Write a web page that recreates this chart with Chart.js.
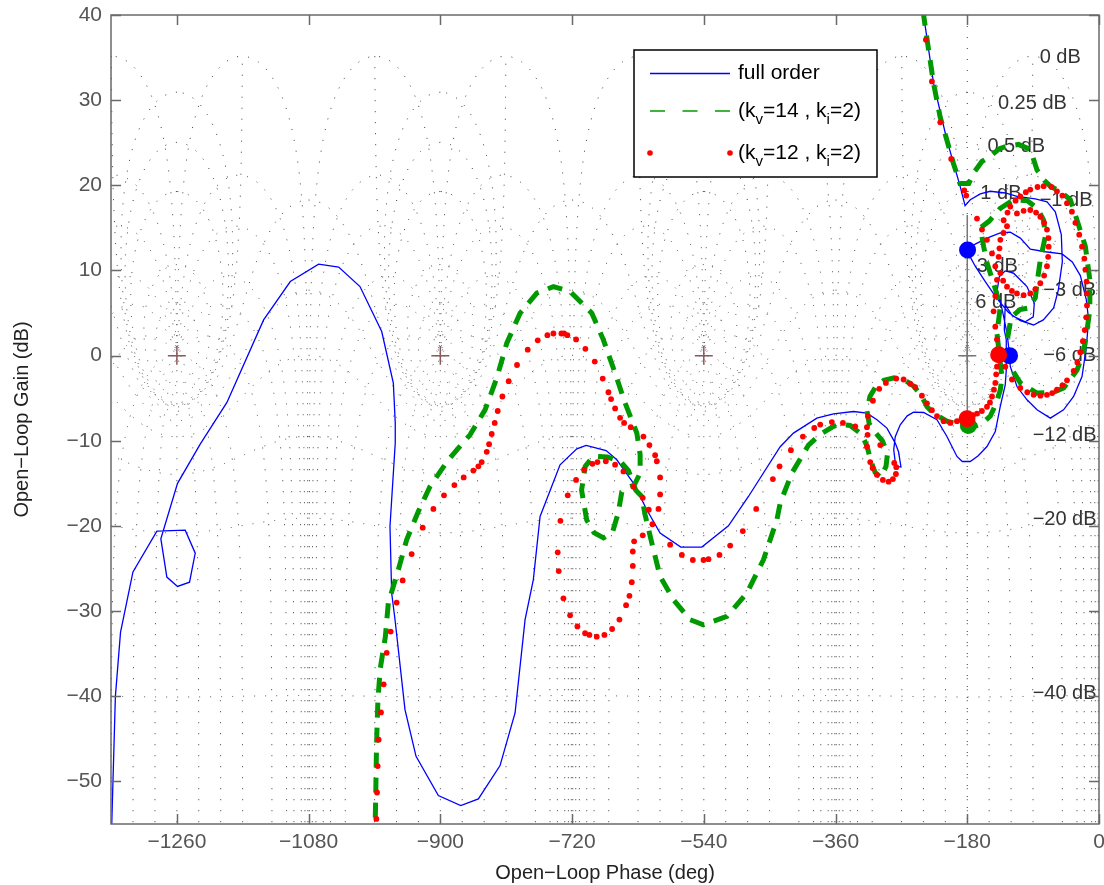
<!DOCTYPE html>
<html>
<head>
<meta charset="utf-8">
<script src="https://cdn.jsdelivr.net/npm/chart.js@4.4.0/dist/chart.umd.min.js"></script>
<style>
html, body { margin: 0; padding: 0; background: #fff; }
</style>
</head>
<body>
<canvas id="myChart" width="1104" height="885"></canvas>
<script>
// axis ticks
const xTickValues = [-1260, -1080, -900, -720, -540, -360, -180, 0];
const yTickValues = [-50, -40, -30, -20, -10, 0, 10, 20, 30, 40];

// full order model, [phase deg, gain dB]
const fullOrder = [
  [-239.7, 40], [-226.1, 32.0], [-207.8, 25.3], [-189.6, 19.85], [-183, 17.6],
  [-175.9, 18.3], [-162.2, 19.0], [-148.6, 19.3], [-128.1, 19.1], [-112.1, 18.7], [-87, 18.4], [-71, 18.05],
  [-59.7, 16.9], [-51.5, 14.2], [-50.1, 11.0], [-55.6, 7.7], [-62, 5.6], [-76.1, 4.2], [-89.4, 3.6],
  [-107.5, 4.1], [-124, 5.1], [-140.4, 6.8], [-155.4, 8.7], [-169.1, 10.5], [-177.3, 11.8], [-179.6, 12.4],
  [-169.1, 13.1], [-153.1, 13.8], [-134.9, 14.4], [-121.2, 14.5], [-107.5, 13.8], [-93.9, 12.5], [-73.4, 12.2],
  [-50.5, 11.95], [-36.5, 11.0], [-25.5, 9.4], [-17.3, 6.55], [-14.2, 4.2], [-17.3, 1.0], [-23.2, -2.45],
  [-34.7, -4.8], [-48.4, -6.36], [-66.5, -7.34], [-84.7, -6.36], [-98.4, -5.19], [-112.1, -3.63],
  [-121.2, -1.28], [-122.2, 0.1], [-125.7, 2.64], [-132.2, 5.38], [-139, 7.72], [-136.3, 9.25],
  [-128.1, 9.95], [-116.7, 9.68], [-98.4, 8.11], [-88.4, 6.16], [-89.8, 4.55], [-100.7, 3.97],
  [-118.5, 4.67], [-128.1, 5.96], [-129.4, 3.03], [-126.7, 1.85], [-126.7, -1.67], [-128.1, -3.43],
  [-134.9, -5.97], [-141.7, -8.91], [-153.1, -10.67], [-165, -11.76], [-175.9, -12.43], [-186.8, -12.43],
  [-194.1, -11.84], [-207.8, -9.49], [-221.4, -7.53], [-239.7, -6.68], [-253.4, -6.63], [-262, -7.07],
  [-271.6, -8.12], [-278.4, -9.53], [-280.5, -11.06], [-277.7, -12.99], [-270.6, -13.08], [-273.9, -11.29],
  [-278.4, -10.27], [-289.8, -8.51], [-303.4, -7.53], [-317.1, -6.75], [-335.4, -6.56], [-362.8, -6.83],
  [-385.5, -7.34], [-417.5, -9.1], [-435.6, -10.7], [-479, -16.54], [-506.3, -19.98], [-542.7, -22.48],
  [-571.4, -22.48], [-599.7, -20.83], [-617.9, -18.1], [-636.2, -14.96], [-658.9, -12.23], [-673.5, -11.14],
  [-700.8, -10.55], [-713.5, -10.94], [-736.4, -12.82], [-763.7, -18.89], [-772.9, -26.31], [-784.2, -31.01],
  [-797.9, -41.96], [-818.4, -48.14], [-848, -52.05], [-872.1, -52.84], [-902.7, -51.66], [-933.2, -47.05],
  [-948.3, -41.57], [-961.9, -31.01], [-966.5, -27.88], [-968.8, -20.06], [-961.6, -10.27], [-961.6, -7.92],
  [-964.2, -3.23], [-980.1, 2.83], [-1009.8, 8.11], [-1038.9, 10.4], [-1066.3, 10.75], [-1105, 8.7],
  [-1141.5, 4.2], [-1191.6, -5.5], [-1228.1, -10.4], [-1259.1, -15.0], [-1281.9, -21.5], [-1273.7, -26.0],
  [-1259.1, -27.1], [-1242.7, -26.6], [-1234.9, -23.2], [-1248.6, -20.5], [-1287.3, -20.6], [-1320, -25.4],
  [-1337, -32.5], [-1344, -40], [-1349, -55.1]
];

// reduced model kv=14, ki=2
const kv14 = [
  [-240.5, 40.5], [-233, 36], [-226.1, 32], [-217, 28], [-207.8, 25.3], [-199, 22.6], [-190, 20.2],
  [-178, 20.2], [-170, 21.6], [-160, 22.8], [-148.5, 23.4], [-136, 24.3], [-125.7, 24.6], [-110, 24.8],
  [-93.8, 24.2], [-84.7, 21.8], [-75, 20.6], [-66.5, 19.9], [-52, 19.2], [-39.2, 18.3], [-30, 15.9],
  [-18.6, 12.8], [-12.5, 8.9], [-12.5, 5.4], [-16, 3.2], [-21, 0.5], [-30, -1.7], [-48.3, -3.8],
  [-61.9, -4.3], [-84.7, -4.4], [-107.5, -3.2], [-121.2, -1.3], [-126, 1.5],
  [-120, 4.5], [-108, 5.4], [-96, 5.6], [-87, 6.8], [-84.7, 8.5], [-80.2, 11.25], [-73.3, 14],
  [-75.6, 15.9], [-84, 17.3], [-98, 18.2], [-116.6, 18.3], [-135, 17.3], [-150, 15.8], [-162, 15.0],
  [-157.6, 12.8], [-153.1, 10.9], [-144, 8.5], [-134.8, 5.8], [-139.4, 2.6], [-136, 0], [-132.6, -2.5],
  [-134.8, -4.0], [-140, -5.5], [-148.5, -7.1], [-160, -8.0], [-170, -8.3], [-180, -8.1],
  [-195, -8.0], [-207.8, -7.7], [-226, -6.8], [-235, -6], [-242, -4.8], [-253, -3.6], [-265, -2.9],
  [-280, -2.6], [-294, -2.9], [-304, -3.5], [-313, -4.8], [-317, -6.5], [-314, -8], [-306, -9],
  [-296, -10], [-289, -11.5], [-291, -13], [-298, -14.3], [-306, -13.7], [-312, -12.3], [-317, -10.6],
  [-325, -9.2], [-340, -8.2], [-353.6, -8.1], [-362.7, -8.3], [-380, -9.2], [-396.9, -10.5],
  [-419.7, -13.8], [-435.6, -17.3], [-440.1, -19.27], [-458.5, -23.97], [-481.2, -27.88], [-508.5, -30.62],
  [-540.5, -31.6], [-558.7, -31.01], [-581.5, -28.66], [-599.7, -25.93], [-611, -22.01], [-620.2, -18.69],
  [-625, -16.5], [-633, -15.8], [-643, -13.5], [-654, -12.4], [-672, -11.9], [-691, -11.8], [-702, -13],
  [-707, -15.8], [-700, -19.3], [-690, -20.8], [-677, -21.4], [-665, -20.8], [-657, -18.5], [-652, -16],
  [-645, -15.5], [-635, -15.2], [-627, -13.8], [-627, -11.6], [-631.5, -9.1], [-647.5, -5.57],
  [-661.2, -2.05], [-677.2, 1.85], [-693, 4.99], [-722.7, 7.52], [-745.5, 8.11], [-768.2, 7.34],
  [-791, 4.99], [-809.2, 1.47], [-822.9, -2.64], [-838.9, -6.36], [-859.4, -9.3], [-889.1, -12.23],
  [-914.1, -15.36], [-930.1, -18.3], [-946, -21.62], [-957.4, -25.14], [-971.1, -29.05], [-975.1, -33],
  [-982, -36.7], [-985.2, -40.3], [-986.5, -43.6], [-987.4, -46.9], [-988.3, -51.8], [-989.3, -56]
];

// reduced model kv=12, ki=2 (markers only)
const kv12 = [
  [-987.4, -54.4], [-986.5, -51.3], [-985.6, -48.2], [-984.3, -45.1], [-981.1, -41.9], [-977.4, -38.6],
  [-973.3, -34.9], [-967.9, -32.4], [-959.7, -29.0], [-951.5, -26.4], [-939.2, -23.3], [-924.1, -20.2],
  [-909.5, -18.0], [-895.0, -16.4], [-880.8, -15.2], [-868.1, -14.3], [-854.9, -13.5], [-848.0, -13.0],
  [-843.5, -12.5], [-836.6, -11.3], [-833.4, -10.4], [-829.8, -9.2], [-825.7, -7.9], [-821.6, -6.5],
  [-815.2, -4.8], [-806.6, -3.0], [-795.2, -1.1], [-780.6, 0.7], [-766.9, 1.8], [-753.7, 2.4],
  [-745.5, 2.6], [-734.6, 2.6], [-730.9, 2.6], [-726.4, 2.4], [-714.5, 1.9], [-701.8, 0.8], [-689.0, -0.7],
  [-678.1, -2.7], [-670.3, -4.3], [-666.7, -5.1], [-661.2, -6.2], [-654.4, -7.3], [-648.9, -7.9],
  [-639.8, -8.4], [-622.5, -9.5], [-614.3, -10.5], [-606.5, -11.7], [-604.2, -12.4], [-599.7, -14.3],
  [-599.7, -16.3], [-601.9, -18.0], [-610.2, -19.8], [-623.4, -21.1], [-635.2, -21.8], [-637.0, -23.0],
  [-637.0, -24.7], [-638.4, -26.6], [-641.6, -28.2], [-646.2, -29.3], [-655.3, -31.0], [-665.3, -32.1],
  [-675.8, -32.8], [-686.3, -33.0], [-696.3, -32.8], [-702.2, -32.6], [-712.7, -31.8], [-722.7, -30.5],
  [-731.8, -28.5], [-738.2, -25.3], [-739.6, -23.1], [-735.9, -19.4], [-725.9, -16.4], [-714.5, -14.6],
  [-703.6, -13.4], [-692.2, -12.7], [-685.3, -12.5], [-673.9, -12.4], [-661.2, -12.8], [-649.8, -13.6],
  [-636.1, -15.4], [-623.4, -16.7], [-615.2, -18.1], [-586.0, -22.2], [-570.0, -23.4], [-555.0, -24.0],
  [-540.4, -24.0], [-533.6, -23.9], [-518.6, -23.4], [-504.0, -22.3], [-486.7, -20.6], [-468.4, -18.0],
  [-445.6, -14.5], [-436.5, -13.0], [-421.0, -11.1], [-404.6, -9.5], [-389.1, -8.5], [-380.9, -8.1],
  [-365.0, -7.8], [-349.9, -7.9], [-333.1, -8.3], [-317.1, -8.4], [-316.2, -9.3], [-317.1, -10.7],
  [-312.6, -12.5], [-309.4, -13.2], [-303.5, -14.0], [-295.3, -14.6], [-287.5, -14.8], [-281.6, -14.5],
  [-277.5, -13.9], [-277.0, -13.1], [-279.8, -12.6], [-298.9, -10.5], [-315.8, -7.1], [-308.9, -5.3],
  [-300.3, -3.9], [-291.2, -3.2], [-277.0, -2.7], [-267.0, -2.8], [-257.9, -3.3], [-251.1, -3.7],
  [-242.0, -4.7], [-235.1, -5.6], [-228.3, -6.4], [-221.4, -7.1], [-212.3, -7.7], [-203.2, -7.9],
  [-194.1, -7.7], [-172, -7.0], [-166.7, -6.8], [-160, -6.5], [-153.1, -6.0], [-149, -5.5], [-146.2, -4.8],
  [-143.5, -4.0], [-141.7, -3.2], [-140.5, -2.2], [-139.4, -1.3], [-139.4, 1.9], [-141.7, 3.4],
  [-144.0, 5.2], [-141.7, 7.0], [-139.4, 8.9], [-141.7, 10.5], [-146.2, 12.0], [-153.1, 13.6],
  [-159.9, 14.8], [-166.7, 16.1], [-181.4, 18.8], [-184.1, 19.4], [-201.9, 23.1], [-216.9, 27.4],
  [-228.3, 32.2], [-236.5, 37.1],
  [-130.3, 15.9], [-125, 16.8], [-121.2, 17.5], [-114, 18.2], [-107.5, 18.7], [-100, 19.2], [-93.9, 19.5],
  [-84, 19.8], [-75.6, 19.9], [-65, 19.8], [-57.4, 19.3], [-50, 18.8], [-43.7, 17.9], [-37, 16.9],
  [-32.3, 15.6], [-27, 14.2], [-23.2, 12.8], [-20, 11.4], [-18.6, 10.1], [-17, 8.7], [-16.4, 7.3],
  [-16.4, 5.9], [-17.5, 4.5], [-19.5, 3.0], [-22, 1.7], [-25.5, 0.4], [-29.5, -0.8], [-34.6, -1.8],
  [-43.7, -2.9], [-50, -3.5], [-57.4, -4.0], [-64, -4.4], [-71.1, -4.6], [-80, -4.7], [-89.3, -4.6],
  [-98, -4.3], [-107.5, -3.8], [-118.9, -2.8], [-128, -1.3],
  [-125.7, 15.2], [-112.1, 16.7], [-103, 17.0], [-93.9, 17.1], [-86, 16.8], [-80.2, 16.3], [-75, 15.6],
  [-71.1, 14.8], [-69, 13.8], [-68.8, 12.8], [-69.5, 11.6], [-71.1, 10.5], [-75, 9.4], [-80.2, 8.5],
  [-87, 7.8], [-93.9, 7.3], [-103, 7.1], [-112.1, 7.3], [-119, 7.6], [-125.7, 8.1], [-131, 8.8],
  [-134.8, 9.7], [-137.1, 11.6], [-136, 12.6], [-134.8, 13.6], [-130.5, 14.4]
];

// stability margin markers
const fullOrderMargins = [[-179.6, 12.4], [-122.2, 0]];
const kv14Margins = [[-178.5, -8.2]];
const kv12Margins = [[-180.4, -7.4], [-137.1, 0.1]];
const marginLine = [[-180, 16.5], [-180, -7.4]];
const criticalPoints = [[-1260, 0], [-900, 0], [-540, 0], [-180, 0]];

// Nichols grid levels
const gridGains = [6, 3, 1, 0.5, 0.25, 0, -1, -3, -6, -12, -20, -40, -60];
const gridPhases = [-1, -5, -10, -20, -30, -50, -90, -120, -150, -180, -210, -240, -270, -310, -330, -340, -350, -355, -359];
const gridLabels = ['0 dB', '0.25 dB', '0.5 dB', '1 dB', '-1 dB', '3 dB', '-3 dB', '6 dB', '-6 dB', '-12 dB', '-20 dB', '-40 dB'];
const gridLabelPhase = [-53, -91, -113, -134, -45, -139, -40, -141, -40, -47, -47, -47];
const gridLabelGain = [35, 29.6, 24.6, 19, 18.2, 10.5, 7.6, 6.2, 0, -9.4, -19.2, -39.7];

const FONT = '"Liberation Sans", Arial, Helvetica, sans-serif';
const minus = s => String(s).replace('-', '\u2212');
const toXY = arr => arr.map(p => ({ x: p[0], y: p[1] }));

// closed loop T = m e^{j th}  ->  open loop G = T / (1 - T)
function openLoop(m, thDeg) {
  const t = thDeg * Math.PI / 180;
  const a = m * Math.cos(t), b = m * Math.sin(t);
  const c = 1 - a, d = -b;
  const den = c * c + d * d;
  const re = (a * c + b * d) / den, im = (b * c - a * d) / den;
  let ph = Math.atan2(im, re) * 180 / Math.PI;
  if (ph > 0) ph -= 360;
  return [ph, 10 * Math.log10(re * re + im * im)];
}

function gridCurves() {
  const curves = [];
  gridGains.forEach(g => {
    const m = Math.pow(10, g / 20), pts = [];
    for (let th = -360; th <= 0.001; th += 0.25) pts.push(openLoop(m, th));
    curves.push(pts);
  });
  gridPhases.forEach(th => {
    const pts = [];
    for (let d = -100; d < 100; d += (Math.abs(d) < 12 ? 0.02 : 0.5)) pts.push(openLoop(Math.pow(10, d / 20), th));
    curves.push(pts);
  });
  return curves;
}
const nicholsCurves = gridCurves();

const nicholsGrid = {
  id: 'nicholsGrid',
  beforeDatasetsDraw(chart) {
    const { ctx, chartArea: a, scales: { x, y } } = chart;
    ctx.save();
    ctx.beginPath();
    ctx.rect(a.left, a.top, a.right - a.left, a.bottom - a.top);
    ctx.clip();
    ctx.strokeStyle = '#3a3a3a';
    ctx.lineWidth = 1;
    ctx.setLineDash([1, 10]);
    for (let k = 0; k < 4; k++) {
      nicholsCurves.forEach(pts => {
        ctx.beginPath();
        let prev = null;
        pts.forEach(p => {
          if (!isFinite(p[1]) || p[1] > 35.3) { prev = null; return; }
          const px = x.getPixelForValue(p[0] - 360 * k), py = y.getPixelForValue(p[1]);
          if (!prev || Math.abs(p[0] - prev[0]) > 90) ctx.moveTo(px, py);
          else ctx.lineTo(px, py);
          prev = p;
        });
        ctx.stroke();
      });
    }
    // vertical reference at -180
    ctx.beginPath();
    ctx.moveTo(x.getPixelForValue(-180), y.getPixelForValue(40));
    ctx.lineTo(x.getPixelForValue(-180), y.getPixelForValue(-55));
    ctx.stroke();
    ctx.setLineDash([]);
    // grid labels
    ctx.fillStyle = '#333';
    ctx.font = '20px ' + FONT;
    ctx.textAlign = 'center';
    ctx.textBaseline = 'middle';
    gridLabels.forEach((t, i) => {
      ctx.fillText(minus(t), x.getPixelForValue(gridLabelPhase[i]), y.getPixelForValue(gridLabelGain[i]));
    });
    ctx.restore();
  },
  afterDraw(chart) {
    const { ctx, chartArea: a, scales: { x, y } } = chart;
    ctx.save();
    // axes box and inward ticks
    ctx.strokeStyle = '#6a6a6a';
    ctx.lineWidth = 1.5;
    ctx.strokeRect(a.left, a.top, a.right - a.left, a.bottom - a.top);
    ctx.beginPath();
    xTickValues.forEach(v => {
      const px = Math.round(x.getPixelForValue(v)) + 0.5;
      ctx.moveTo(px, a.bottom); ctx.lineTo(px, a.bottom - 10);
      ctx.moveTo(px, a.top); ctx.lineTo(px, a.top + 10);
    });
    yTickValues.forEach(v => {
      const py = Math.round(y.getPixelForValue(v)) + 0.5;
      ctx.moveTo(a.left, py); ctx.lineTo(a.left + 10, py);
      ctx.moveTo(a.right, py); ctx.lineTo(a.right - 10, py);
    });
    ctx.stroke();

    // legend
    const lx = 634, ly = 50, lw = 243, lh = 127;
    ctx.fillStyle = '#fff';
    ctx.fillRect(lx, ly, lw, lh);
    ctx.strokeStyle = '#000';
    ctx.lineWidth = 1.5;
    ctx.strokeRect(lx, ly, lw, lh);
    const rows = [73.5, 111, 153];
    ctx.lineWidth = 1.4;
    ctx.strokeStyle = 'rgb(0,0,255)';
    ctx.beginPath(); ctx.moveTo(650, rows[0]); ctx.lineTo(730, rows[0]); ctx.stroke();
    ctx.strokeStyle = '#009900';
    ctx.setLineDash([15, 17.5]);
    ctx.beginPath(); ctx.moveTo(650, rows[1]); ctx.lineTo(731, rows[1]); ctx.stroke();
    ctx.setLineDash([]);
    ctx.fillStyle = 'rgb(255,0,0)';
    [650, 730].forEach(px => { ctx.beginPath(); ctx.arc(px, rows[2], 2.8, 0, Math.PI * 2); ctx.fill(); });
    ctx.fillStyle = '#000';
    ctx.textAlign = 'left';
    ctx.textBaseline = 'middle';
    const rich = (parts, px, py) => {
      parts.forEach(([t, sub]) => {
        ctx.font = (sub ? '15px ' : '21px ') + FONT;
        ctx.fillText(t, px, sub ? py + 9 : py);
        px += ctx.measureText(t).width;
      });
    };
    rich([['full order', 0]], 738, rows[0]);
    rich([['(k', 0], ['v', 1], ['=14 , k', 0], ['i', 1], ['=2)', 0]], 738, rows[1]);
    rich([['(k', 0], ['v', 1], ['=12 , k', 0], ['i', 1], ['=2)', 0]], 738, rows[2]);
    ctx.restore();
  }
};

Chart.defaults.font.family = FONT;

const ctx = document.getElementById('myChart').getContext('2d');
window.nicholsChart = new Chart(ctx, {
  type: 'scatter',
  data: {
    datasets: [
      {
        label: 'kv12 margins', data: toXY(kv12Margins), order: 1,
        pointRadius: 8.5, pointBackgroundColor: 'rgb(255,0,0)', pointBorderWidth: 0, showLine: false
      },
      {
        label: 'kv14 margins', data: toXY(kv14Margins), order: 2,
        pointRadius: 8.5, pointBackgroundColor: '#009900', pointBorderWidth: 0, showLine: false
      },
      {
        label: 'full order margins', data: toXY(fullOrderMargins), order: 3,
        pointRadius: 8.5, pointBackgroundColor: 'rgb(0,0,255)', pointBorderWidth: 0, showLine: false
      },
      {
        label: '(kv=12 , ki=2)', data: toXY(kv12), order: 4,
        pointRadius: 2.9, pointBackgroundColor: 'rgb(255,0,0)', pointBorderWidth: 0, showLine: false
      },
      {
        label: '(kv=14 , ki=2)', data: toXY(kv14), order: 5,
        showLine: true, borderColor: '#009900', borderWidth: 5, borderDash: [15, 10],
        pointRadius: 0, tension: 0
      },
      {
        label: 'full order', data: toXY(fullOrder), order: 6,
        showLine: true, borderColor: 'rgb(0,0,255)', borderWidth: 1.3, pointRadius: 0, tension: 0
      },
      {
        label: 'margin', data: toXY(marginLine), order: 7,
        showLine: true, borderColor: '#777', borderWidth: 1.5, pointRadius: 0
      },
      {
        label: 'critical', data: toXY(criticalPoints), order: 8, showLine: false,
        pointStyle: 'cross', pointRadius: 9, pointBorderWidth: 1.5,
        pointBorderColor: c => (c.raw && c.raw.x === -180 ? '#777' : '#8c5a5a')
      }
    ]
  },
  options: {
    responsive: false,
    animation: false,
    devicePixelRatio: 1,
    layout: { autoPadding: false, padding: { left: 0, right: 5, top: 15, bottom: 0 } },
    plugins: { legend: { display: false }, tooltip: { enabled: false } },
    scales: {
      x: {
        type: 'linear', min: -1350, max: 0,
        grid: { display: false, drawTicks: false },
        border: { display: false },
        afterBuildTicks: s => { s.ticks = xTickValues.map(v => ({ value: v })); },
        afterFit: s => { s.height = 61; s.paddingLeft = 0; s.paddingRight = 0; },
        ticks: { color: '#555', font: { size: 21 }, padding: 6, maxRotation: 0, autoSkip: false, callback: v => minus(v) },
        title: { display: true, text: 'Open\u2212Loop Phase (deg)', color: '#222', font: { size: 20 }, padding: { top: 0, bottom: 0 } }
      },
      y: {
        type: 'linear', min: -55, max: 40,
        grid: { display: false, drawTicks: false },
        border: { display: false },
        afterBuildTicks: s => { s.ticks = yTickValues.map(v => ({ value: v })); },
        afterFit: s => { s.width = 111; s.paddingTop = 0; s.paddingBottom = 0; },
        ticks: { color: '#555', font: { size: 21 }, padding: 9, autoSkip: false, callback: v => minus(v) },
        title: { display: true, text: 'Open\u2212Loop Gain (dB)', color: '#222', font: { size: 20 }, padding: { top: 10, bottom: 0 } }
      }
    }
  },
  plugins: [nicholsGrid]
});
</script>
</body>
</html>
